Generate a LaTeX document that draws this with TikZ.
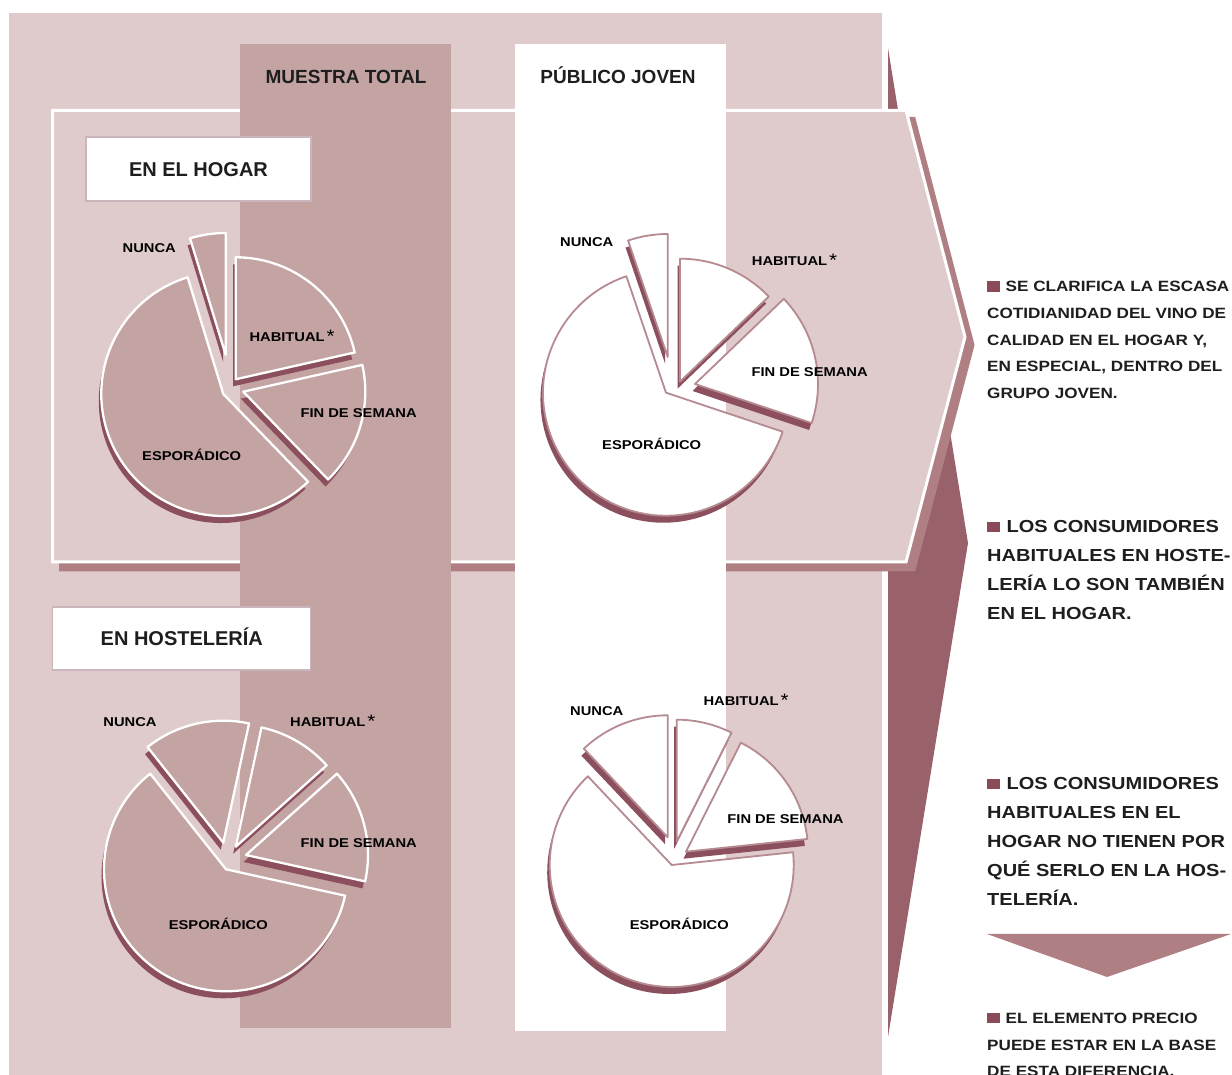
\documentclass[tikz,border=0pt]{standalone}
\usepackage{fontspec}
\setmainfont{Liberation Sans}
\newfontfamily\widesans[FakeStretch=1.15]{Liberation Sans}

\definecolor{bgpink}{HTML}{DFCBCB}
\definecolor{colmauve}{HTML}{C4A3A3}
\definecolor{shadowmauve}{HTML}{B07F84}
\definecolor{darkwedge}{HTML}{99616A}
\definecolor{pieshade}{HTML}{8C4F5D}
\definecolor{pieline}{HTML}{B58A90}
\definecolor{boxline}{HTML}{CBB5BD}
\definecolor{bulletc}{HTML}{8B4A58}
\definecolor{inkc}{HTML}{1E1E1E}

\tikzset{
  pieshadow/.style={fill=pieshade},
  totalslice/.style={fill=colmauve, draw=white, line width=2.3pt, line join=round},
  youngslice/.style={fill=white, draw=pieline, line width=1.8pt, line join=round},
  pielabel/.style={font=\widesans\bfseries\fontsize{12.8}{14}\selectfont, text=black, inner sep=0pt, text height=9.2pt, text depth=0pt},
  coltitle/.style={font=\bfseries\fontsize{19}{22}\selectfont, text=inkc, inner sep=0pt, text height=13.6pt, text depth=0pt},
  titlebox/.style={draw=boxline, line width=1.2pt, fill=white, font=\bfseries\fontsize{20}{24}\selectfont, text=inkc, text height=14.3pt, text depth=0pt},
  smallnote/.style={font=\widesans\bfseries\fontsize{14.9}{26.7}\selectfont, text=inkc, align=left, inner sep=0pt, anchor=north west},
  bignote/.style={font=\widesans\bfseries\fontsize{17.4}{29.2}\selectfont, text=inkc, align=left, inner sep=0pt, anchor=north west}
}

\newcommand{\sqbullet}{\textcolor{bulletc}{\rule{12.5pt}{10.5pt}}\hspace{0.4em}}
\newcommand{\habstar}{\hspace{2pt}\raisebox{-1pt}{\mdseries\fontsize{18}{18}\selectfont*}}
\newcommand{\drawpie}[3]{%
  \foreach \px/\py/\sa/\ea in {#1}
    \fill[pieshadow] (\px-2.5,\py-7) -- ++(\sa:#2) arc[start angle=\sa, end angle=\ea, radius=#2] -- cycle;
  \foreach \px/\py/\sa/\ea in {#1}
    \filldraw[#3] (\px,\py) -- ++(\sa:#2) arc[start angle=\sa, end angle=\ea, radius=#2] -- cycle;
}

\begin{document}
\begin{tikzpicture}[x=1pt, y=1pt]
  \useasboundingbox (0,0) rectangle (1232,1075);
  \fill[bgpink] (9,0) rectangle (882,1062);
  \fill[darkwedge] (888,1027) -- (968,532) -- (888,38) -- cycle;
  \filldraw[shadowmauve, line width=3pt] (60.5,956.5) -- (914,956.5) -- (973,730) -- (914,505) -- (60.5,505) -- cycle;
  \filldraw[fill=bgpink, draw=white, line width=3pt] (52.5,964.5) -- (906,964.5) -- (965,738) -- (906,513) -- (52.5,513) -- cycle;
  \fill[colmauve] (240,47) rectangle (451,1031);
  \fill[white] (515,44) rectangle (726,1031);

  \node[coltitle] (total) at (346,998.2) {MUESTRA TOTAL};
  \node[coltitle] (joven) at (618,998) {PÚBLICO JOVEN};
  \node[titlebox, minimum width=225pt, minimum height=64pt] (hogar) at (198.5,906) {EN EL HOGAR};
  \node[titlebox, minimum width=258pt, minimum height=63pt] (hosteleria) at (181.8,436.5) {EN HOSTELERÍA};

  \drawpie{225.7/720/90/107, 223.3/681/107/314, 243.3/683.3/-46/12.7, 235.7/695.7/12.7/90}{122}{totalslice}
  \drawpie{667.7/718/90/108.8, 666/682.3/108.8/341.5, 695/691/-18.5/43.8, 680/693.3/43.8/90}{123}{youngslice}
  \drawpie{223.3/232.3/77.8/128.4, 226/205.7/128.4/347.5, 246/220/-12.5/41.8, 235.7/228.3/41.8/77.8}{122}{totalslice}
  \drawpie{667.7/237.7/90/133.4, 671.7/210/133.4/366, 686/223.3/6/63.3, 676.7/233.3/63.3/90}{122}{youngslice}

  \node[pielabel] (nunca1) at (149.3,826.7) {NUNCA};
  \node[pielabel, anchor=west] (habitual1) at (249.3,737.7) {HABITUAL\habstar};
  \node[pielabel] (finde1) at (358.6,662.5) {FIN DE SEMANA};
  \node[pielabel] (espor1) at (191.7,619.3) {ESPORÁDICO};

  \node[pielabel] (nunca2) at (586.7,833.3) {NUNCA};
  \node[pielabel, anchor=west] (habitual2) at (751.7,814.3) {HABITUAL\habstar};
  \node[pielabel] (finde2) at (809.7,703) {FIN DE SEMANA};
  \node[pielabel] (espor2) at (651.7,630) {ESPORÁDICO};

  \node[pielabel] (nunca3) at (130,353.3) {NUNCA};
  \node[pielabel, anchor=west] (habitual3) at (290,353.3) {HABITUAL\habstar};
  \node[pielabel] (finde3) at (358.8,232.3) {FIN DE SEMANA};
  \node[pielabel] (espor3) at (218.3,150) {ESPORÁDICO};

  \node[pielabel] (nunca4) at (596.7,364.3) {NUNCA};
  \node[pielabel, anchor=west] (habitual4) at (703.3,374.3) {HABITUAL\habstar};
  \node[pielabel] (finde4) at (785.5,256.2) {FIN DE SEMANA};
  \node[pielabel] (espor4) at (679.3,150) {ESPORÁDICO};

  \node[smallnote] (note1) at (987,794) {\sqbullet SE CLARIFICA LA ESCASA\\COTIDIANIDAD DEL VINO DE\\CALIDAD EN EL HOGAR Y,\\EN ESPECIAL, DENTRO DEL\\GRUPO JOVEN.};
  \node[bignote] (note2) at (987,555.2) {\sqbullet LOS CONSUMIDORES\\HABITUALES EN HOSTE-\\LERÍA LO SON TAMBIÉN\\EN EL HOGAR.};
  \node[bignote] (note3) at (987,298.2) {\sqbullet LOS CONSUMIDORES\\HABITUALES EN EL\\HOGAR NO TIENEN POR\\QUÉ SERLO EN LA HOS-\\TELERÍA.};
  \fill[shadowmauve] (987,141) -- (1231,141) -- (1107,98) -- cycle;
  \node[smallnote] (note4) at (987,62.3) {\sqbullet EL ELEMENTO PRECIO\\PUEDE ESTAR EN LA BASE\\DE ESTA DIFERENCIA.};
\end{tikzpicture}
\end{document}
